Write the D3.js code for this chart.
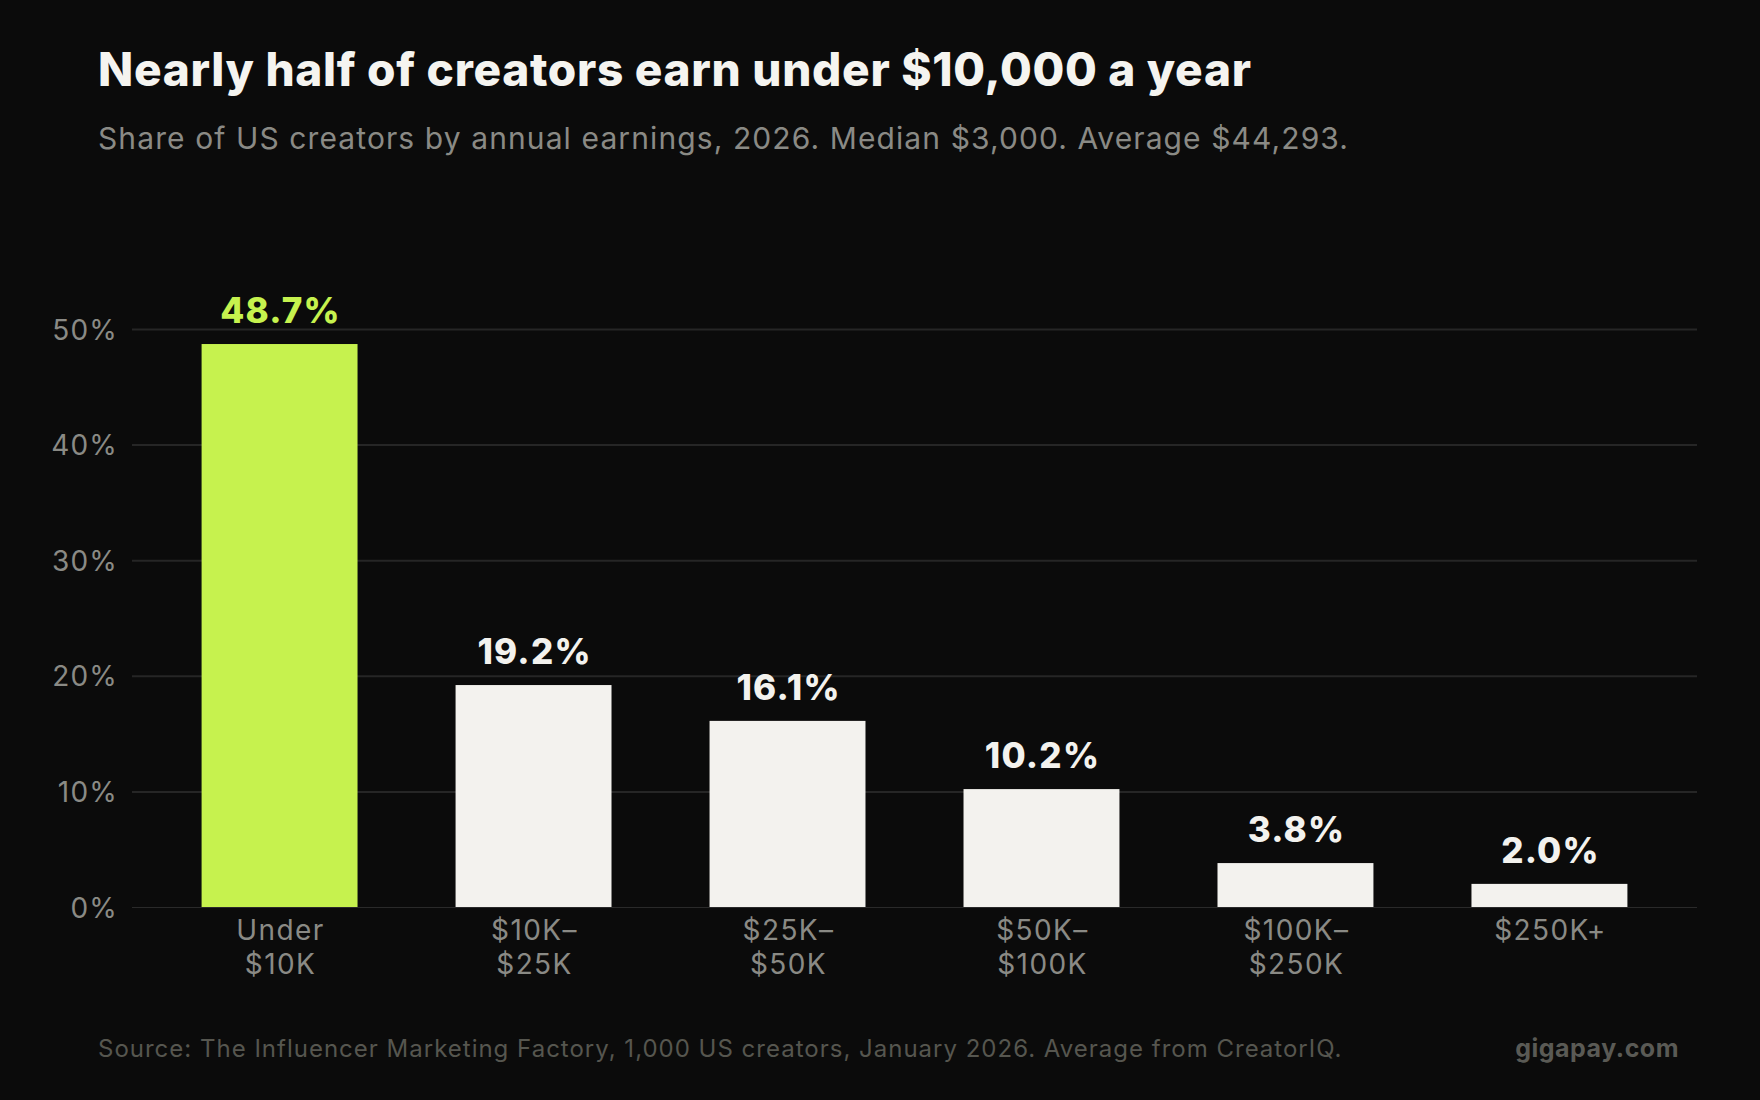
<!DOCTYPE html>
<html>
<head>
<meta charset="utf-8">
<script src="https://cdn.jsdelivr.net/npm/d3@7"></script>
<style>
  html, body { margin: 0; padding: 0; background: #0b0b0b; }
  svg { display: block; }
  text { font-family: Inter, "Noto Sans", sans-serif; }
</style>
</head>
<body>
<div id="chart"></div>
<script>
// data
var categories = ["Under\n$10K", "$10K–\n$25K", "$25K–\n$50K", "$50K–\n$100K", "$100K–\n$250K", "$250K+"];
var shares = [48.7, 19.2, 16.1, 10.2, 3.8, 2.0];
var yTicks = [0, 10, 20, 30, 40, 50];

var width = 1760,
    height = 1100;

var margin = {top: 329, right: 63, bottom: 193, left: 132};

var svg = d3.select("#chart")
  .append("svg")
  .attr("width", width)
  .attr("height", height);

svg.append("rect")
  .attr("width", width)
  .attr("height", height)
  .attr("fill", "#0b0b0b");

// title + subtitle
svg.append("text")
  .attr("x", 98)
  .attr("y", 86)
  .attr("fill", "#f5f4f0")
  .style("font-size", "46px")
  .style("font-weight", 800)
  .style("letter-spacing", "0.7px")
  .text("Nearly half of creators earn under $10,000 a year");

svg.append("text")
  .attr("x", 98)
  .attr("y", 149)
  .attr("fill", "#8a8a85")
  .style("font-size", "30px")
  .style("letter-spacing", "1.1px")
  .text("Share of US creators by annual earnings, 2026. Median $3,000. Average $44,293.");

var x = d3.scaleBand()
  .domain(categories)
  .range([margin.left, width - margin.right])
  .paddingInner(0.386)
  .paddingOuter(0.274);

var y = d3.scaleLinear()
  .domain([0, 50])
  .range([height - margin.bottom, margin.top]);

// y axis with gridlines
var yAxis = svg.append("g")
  .attr("transform", "translate(" + margin.left + ",0)")
  .call(d3.axisLeft(y)
    .tickValues(yTicks)
    .tickSize(-(width - margin.left - margin.right))
    .tickPadding(14)
    .tickFormat(function(d){ return d + "%"; }));

yAxis.select(".domain").remove();
yAxis.selectAll(".tick line")
  .attr("stroke", function(d){ return d === 0 ? "#2a2a2a" : "#262626"; })
  .attr("stroke-width", function(d){ return d === 0 ? 1 : 2; });
yAxis.selectAll(".tick text")
  .attr("fill", "#8a8a85")
  .style("font-size", "28px")
  .style("letter-spacing", "1.2px")
  .attr("dy", "0.36em");

// bars
svg.selectAll("rect.bar")
  .data(shares)
  .enter()
  .append("rect")
  .attr("class", "bar")
  .attr("x", function(d, i){ return x(categories[i]); })
  .attr("y", function(d){ return y(d); })
  .attr("width", x.bandwidth())
  .attr("height", function(d){ return y(0) - y(d); })
  .attr("fill", function(d, i){ return i === 0 ? "#c6f24e" : "#f3f2ee"; });

// value labels
svg.selectAll("text.val")
  .data(shares)
  .enter()
  .append("text")
  .attr("class", "val")
  .attr("x", function(d, i){ return x(categories[i]) + x.bandwidth() / 2 + 1; })
  .attr("y", function(d){ return y(d) - 21; })
  .attr("text-anchor", "middle")
  .attr("fill", function(d, i){ return i === 0 ? "#c6f24e" : "#f3f2ee"; })
  .style("font-size", "35px")
  .style("font-weight", 800)
  .style("letter-spacing", "1.2px")
  .text(function(d){ return d.toFixed(1) + "%"; });

// category labels, two lines each
var xLab = svg.selectAll("text.cat")
  .data(categories)
  .enter()
  .append("text")
  .attr("class", "cat")
  .attr("text-anchor", "middle")
  .attr("fill", "#8a8a85")
  .style("font-size", "28px")
  .style("letter-spacing", "1.4px");

xLab.each(function(d){
  var t = d3.select(this);
  var cx = x(d) + x.bandwidth() / 2 + 1;
  d.split("\n").forEach(function(line, k){
    t.append("tspan")
      .attr("x", cx)
      .attr("y", y(0) + 33 + k * 33.5)
      .text(line);
  });
});

// footer
svg.append("text")
  .attr("x", 98)
  .attr("y", 1057)
  .attr("fill", "#56564f")
  .style("font-size", "24px")
  .style("letter-spacing", "1px")
  .text("Source: The Influencer Marketing Factory, 1,000 US creators, January 2026. Average from CreatorIQ.");

svg.append("text")
  .attr("x", 1679)
  .attr("y", 1057)
  .attr("text-anchor", "end")
  .attr("fill", "#5a5a55")
  .style("font-size", "25px")
  .style("font-weight", 700)
  .style("letter-spacing", "0.5px")
  .text("gigapay.com");
</script>
</body>
</html>
